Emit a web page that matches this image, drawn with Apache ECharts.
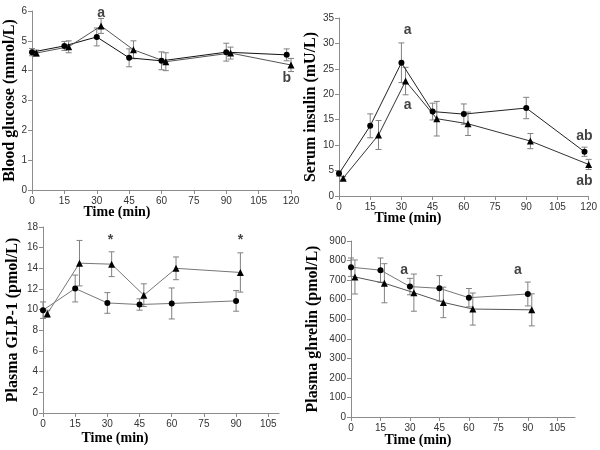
<!DOCTYPE html>
<html><head><meta charset="utf-8">
<script src="https://cdn.jsdelivr.net/npm/echarts@6/dist/echarts.min.js"></script>
<style>html,body{margin:0;padding:0;background:#fff}#c{width:600px;height:450px}</style>
</head><body><div id="c"></div>
<script>
// ---- Panel 1: Blood glucose ----
const gluTimeC = [0, 15, 30, 45, 60, 90, 118];
const gluC     = [4.62, 4.83, 5.13, 4.43, 4.33, 4.62, 4.53];
const gluCErr  = [0.12, 0.15, 0.3, 0.3, 0.3, 0.3, 0.2];
const gluTimeT = [2, 17, 32, 47, 62, 92, 120];
const gluT     = [4.59, 4.8, 5.5, 4.7, 4.3, 4.59, 4.19];
const gluTErr  = [0.1, 0.2, 0.25, 0.3, 0.3, 0.2, 0.22];
const gluNotes = [[32, 5.94, 'a'], [118, 3.75, 'b']];
// ---- Panel 2: Serum insulin ----
const insTimeC = [0, 15, 30, 45, 60, 90, 118];
const insC     = [4.4, 13.8, 26.2, 16.6, 16.1, 17.3, 8.7];
const insCErr  = [0.5, 2.35, 3.9, 1.65, 2.0, 2.1, 0.9];
const insTimeT = [2, 19, 32, 47, 62, 92, 120];
const insT     = [3.5, 12.0, 22.6, 15.2, 14.2, 10.8, 6.2];
const insTErr  = [0.3, 2.85, 2.7, 3.4, 2.3, 1.5, 1.0];
const insNotes = [[33, 32.7, 'a'], [33, 17.8, 'a'], [118, 11.75, 'ab'], [118, 2.9, 'ab']];
// ---- Panel 3: Plasma GLP-1 ----
const glpTimeC = [0, 15, 30, 45, 60, 90];
const glpC     = [9.95, 12.05, 10.65, 10.5, 10.6, 10.85];
const glpCErr  = [0.8, 1.3, 1.0, 0.55, 1.5, 1.0];
const glpTimeT = [2, 17, 32, 47, 62, 92];
const glpT     = [9.6, 14.5, 14.4, 11.4, 14.0, 13.6];
const glpTErr  = [0.35, 2.2, 1.2, 1.1, 1.1, 1.9];
const glpNotes = [[31.5, 16.7, '*'], [92, 16.7, '*']];
// ---- Panel 4: Plasma ghrelin ----
const ghrTimeC = [0, 15, 30, 45, 60, 90];
const ghrC     = [766, 751, 667, 658, 610, 629];
const ghrCErr  = [47, 62, 42, 65, 47, 61];
const ghrTimeT = [2, 17, 32, 47, 62, 92];
const ghrT     = [716, 684, 636, 586, 552, 548];
const ghrTErr  = [87, 100, 95, 78, 82, 82];
const ghrNotes = [[27, 749, 'a'], [85, 749, 'a']];
const xTicks = [0, 15, 30, 45, 60, 75, 90, 105, 120];

const zip2 = (a, b) => a.map((v, i) => [v, b[i]]);
const zip3 = (a, b, c) => a.map((v, i) => [v, b[i], c[i]]);

function errRender(params, api) {
  const x = api.value(0), y = api.value(1), e = api.value(2);
  const t = api.coord([x, y + e]), b = api.coord([x, y - e]);
  const w = 3, st = {stroke: '#808080', lineWidth: 1};
  return {type: 'group', children: [
    {type: 'line', shape: {x1: t[0], y1: t[1], x2: b[0], y2: b[1]}, style: st},
    {type: 'line', shape: {x1: t[0] - w, y1: t[1], x2: t[0] + w, y2: t[1]}, style: st},
    {type: 'line', shape: {x1: b[0] - w, y1: b[1], x2: b[0] + w, y2: b[1]}, style: st}
  ]};
}

const axisCommon = {
  axisLine: {lineStyle: {color: '#8c8c8c', width: 1}},
  axisTick: {lineStyle: {color: '#8c8c8c'}, length: 4},
  axisLabel: {color: '#333', fontSize: 10, fontFamily: 'Liberation Sans, Arial, sans-serif'},
  splitLine: {show: false}
};
const nameStyle = {fontFamily: 'Liberation Serif, Times New Roman, serif', fontWeight: 'bold', fontSize: 16, color: '#000'};

function xAxis(idx, max, ticks) {
  return Object.assign({}, axisCommon, {
    type: 'value', gridIndex: idx, min: 0, max: max, interval: 15,
    axisTick: Object.assign({}, axisCommon.axisTick, {customValues: ticks}),
    axisLabel: Object.assign({}, axisCommon.axisLabel, {customValues: ticks, margin: 6})
  });
}
function yAxis(idx, max, interval, name, gap) {
  return Object.assign({}, axisCommon, {
    type: 'value', gridIndex: idx, min: 0, max: max, interval: interval,
    name: name, nameLocation: 'middle', nameGap: gap, nameTextStyle: nameStyle,
    axisLabel: Object.assign({}, axisCommon.axisLabel, {margin: 5})
  });
}

const series = [];
function addPanel(idx, tc, c, ce, tt, t, te, notes, lineC, lineT) {
  series.push({type: 'custom', xAxisIndex: idx, yAxisIndex: idx, renderItem: errRender,
    data: zip3(tc, c, ce), z: 1, silent: true});
  series.push({type: 'custom', xAxisIndex: idx, yAxisIndex: idx, renderItem: errRender,
    data: zip3(tt, t, te), z: 1, silent: true});
  series.push({type: 'line', xAxisIndex: idx, yAxisIndex: idx, data: zip2(tc, c),
    symbol: 'circle', symbolSize: 6, showAllSymbol: true,
    lineStyle: {color: lineC, width: 1}, itemStyle: {color: '#000'}, z: 3, animation: false});
  series.push({type: 'line', xAxisIndex: idx, yAxisIndex: idx, data: zip2(tt, t),
    symbol: 'triangle', symbolSize: 7, showAllSymbol: true,
    lineStyle: {color: lineT, width: 1}, itemStyle: {color: '#000'}, z: 3, animation: false});
  series.push({type: 'scatter', xAxisIndex: idx, yAxisIndex: idx, symbolSize: 0,
    data: notes.map(n => ({value: [n[0], n[1]], name: n[2]})),
    label: {show: true, position: 'inside', formatter: p => p.name,
      fontFamily: 'Liberation Sans, Arial, sans-serif', fontWeight: 'bold', fontSize: 14, color: '#111'},
    z: 4, animation: false});
}
addPanel(0, gluTimeC, gluC, gluCErr, gluTimeT, gluT, gluTErr, gluNotes, '#111', '#555');
addPanel(1, insTimeC, insC, insCErr, insTimeT, insT, insTErr, insNotes, '#222', '#333');
addPanel(2, glpTimeC, glpC, glpCErr, glpTimeT, glpT, glpTErr, glpNotes, '#777', '#777');
addPanel(3, ghrTimeC, ghrC, ghrCErr, ghrTimeT, ghrT, ghrTErr, ghrNotes, '#777', '#555');

const xTitle = (cx, cy) => ({type: 'text', x: cx, y: cy,
  style: {text: 'Time (min)', x: 0, y: 0, align: 'center', verticalAlign: 'middle',
    font: 'bold 14px "Liberation Serif", "Times New Roman", serif', fill: '#000'}});

const chart = echarts.init(document.getElementById('c'), null, {renderer: 'canvas'});
chart.setOption({
  animation: false,
  backgroundColor: '#fff',
  grid: [
    {left: 32, top: 11, width: 259, height: 179},
    {left: 339, top: 18, width: 253, height: 178},
    {left: 43, top: 227, width: 236, height: 186},
    {left: 351, top: 241, width: 224, height: 176}
  ],
  xAxis: [
    xAxis(0, 120, xTicks),
    xAxis(1, 120, xTicks),
    xAxis(2, 110, xTicks.slice(0, 8)),
    xAxis(3, 114, xTicks.slice(0, 8))
  ],
  yAxis: [
    yAxis(0, 6, 1, 'Blood glucose (mmol/L)', 12),
    yAxis(1, 35, 5, 'Serum insulin (mU/L)', 18),
    yAxis(2, 18, 2, 'Plasma GLP-1 (pmol/L)', 22),
    yAxis(3, 900, 100, 'Plasma ghrelin (pmol/L)', 30)
  ],
  graphic: [xTitle(117, 212), xTitle(408, 218), xTitle(115, 438), xTitle(418, 440)],
  series: series
});
</script></body></html>
